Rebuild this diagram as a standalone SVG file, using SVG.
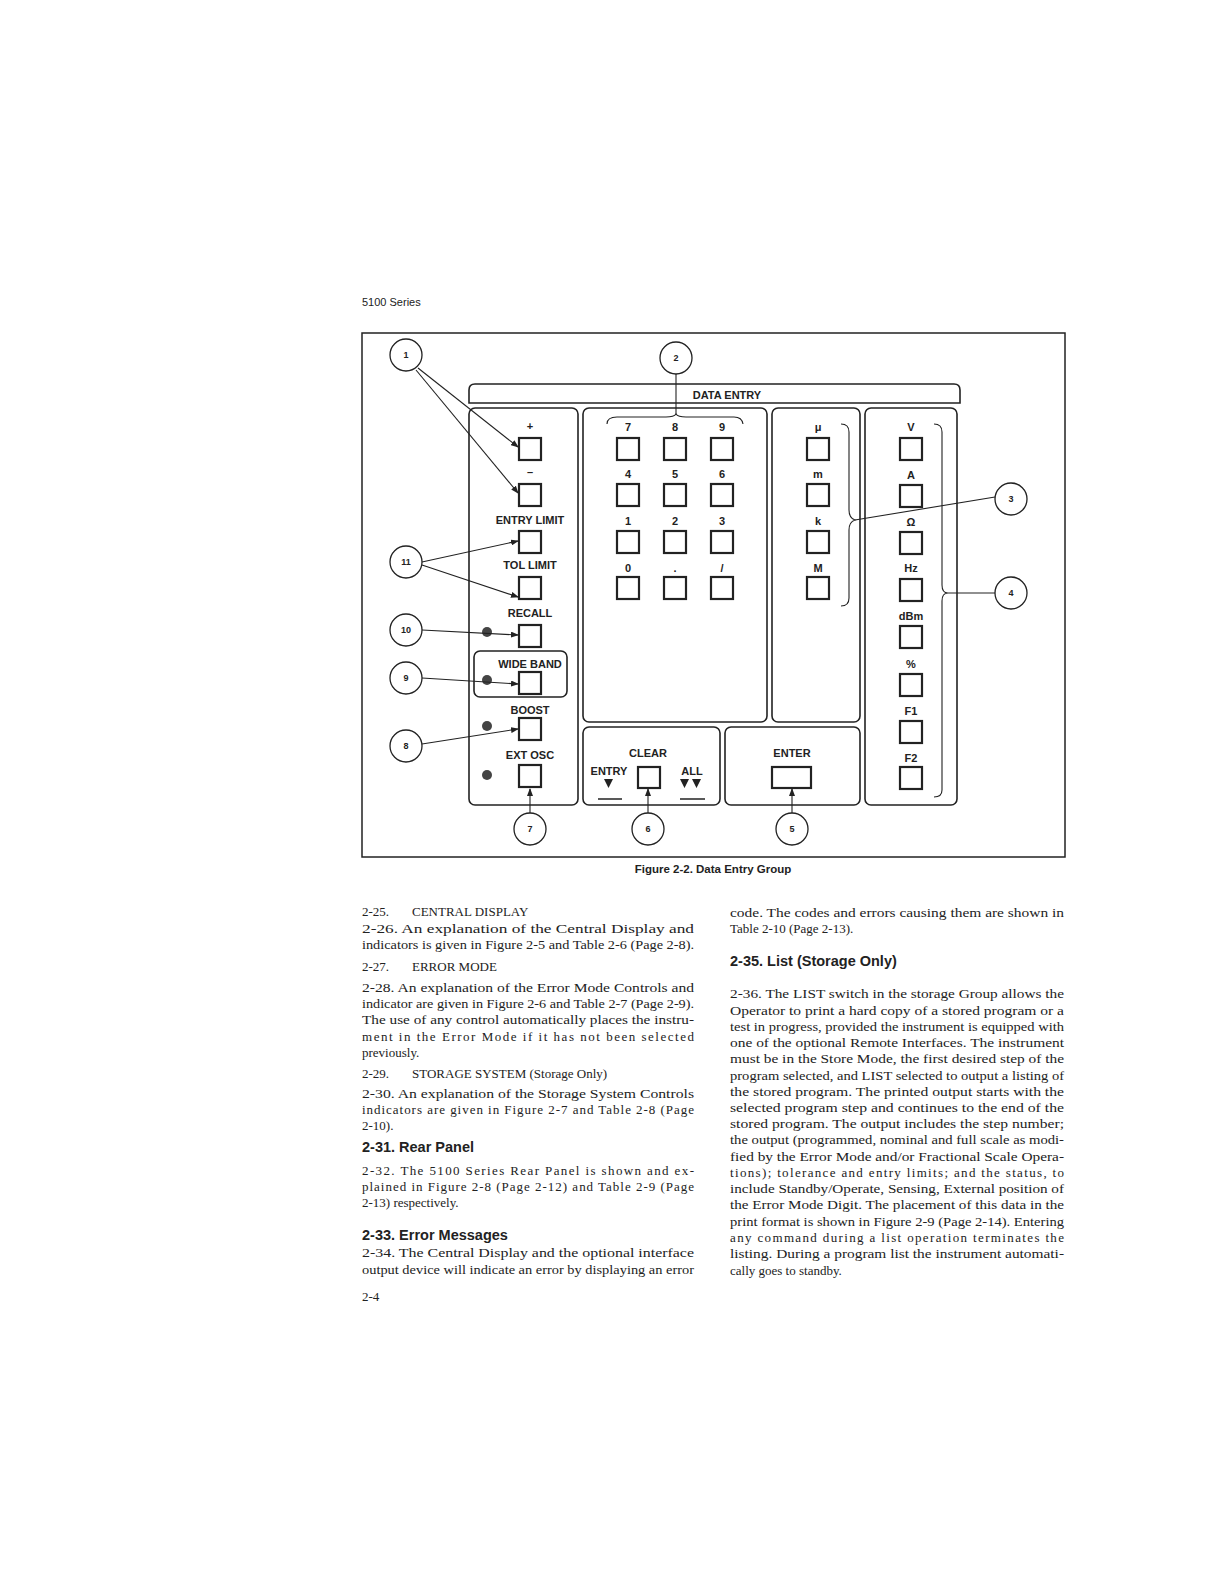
<svg xmlns="http://www.w3.org/2000/svg" width="1224" height="1584" viewBox="0 0 1224 1584">
<defs>
<marker id="ah" markerWidth="8" markerHeight="6" refX="7" refY="3" orient="auto" markerUnits="userSpaceOnUse"><path d="M0,0L8,3L0,6z" fill="#222"/></marker>
<style>
.p{fill:none;stroke:#222;stroke-width:1.6}
.b{fill:#fff;stroke:#222;stroke-width:2.2}
.l{font-family:"Liberation Sans",Arial,sans-serif;font-size:11px;font-weight:bold;fill:#222;text-anchor:middle}
.c{fill:#fff;stroke:#222;stroke-width:1.3}
.cn{font-family:"Liberation Sans",Arial,sans-serif;font-size:9px;font-weight:bold;fill:#222;text-anchor:middle}
.k{stroke:#222;stroke-width:1.1;fill:none}
.t{font-family:"Liberation Serif","Times New Roman",serif;font-size:13px;fill:#222}
.h{font-family:"Liberation Sans",Arial,sans-serif;font-size:14.5px;font-weight:bold;fill:#222}
.led{fill:#444}
</style>
</defs>
<rect width="1224" height="1584" fill="#fff"/>
<text x="362" y="306" font-family="Liberation Sans,Arial,sans-serif" font-size="11" fill="#222">5100 Series</text>
<rect x="362" y="333" width="703" height="524" fill="none" stroke="#222" stroke-width="1.5"/>
<g id="panels">
<path class="p" d="M469,403V390q0,-6 6,-6H954q6,0 6,6V403z"/>
<text class="l" x="727" y="399" font-size="14">DATA ENTRY</text>
<rect class="p" x="469" y="408" width="109" height="397" rx="6"/>
<rect class="p" x="583" y="408" width="184" height="314" rx="6"/>
<rect class="p" x="772" y="408" width="88" height="314" rx="6"/>
<rect class="p" x="865" y="408" width="92" height="397" rx="6"/>
<rect class="p" x="583" y="727" width="137" height="78" rx="6"/>
<rect class="p" x="725" y="727" width="135" height="78" rx="6"/>
<rect class="p" x="474" y="651" width="93" height="46" rx="6" stroke-width="2"/>
</g>
<g id="left-buttons">
<text class="l" x="530" y="430">+</text><rect class="b" x="519" y="438" width="22" height="22"/>
<text class="l" x="530" y="476">–</text><rect class="b" x="519" y="484" width="22" height="22"/>
<text class="l" x="530" y="524">ENTRY LIMIT</text><rect class="b" x="519" y="531" width="22" height="22"/>
<text class="l" x="530" y="569">TOL LIMIT</text><rect class="b" x="519" y="577" width="22" height="22"/>
<text class="l" x="530" y="617">RECALL</text><rect class="b" x="519" y="625" width="22" height="22"/>
<text class="l" x="530" y="668">WIDE BAND</text><rect class="b" x="519" y="672" width="22" height="22"/>
<text class="l" x="530" y="714">BOOST</text><rect class="b" x="519" y="718" width="22" height="22"/>
<text class="l" x="530" y="759">EXT OSC</text><rect class="b" x="519" y="765" width="22" height="22"/>
<circle class="led" cx="487" cy="632" r="5"/><circle class="led" cx="487" cy="680" r="5"/><circle class="led" cx="487" cy="726" r="5"/><circle class="led" cx="487" cy="775" r="5"/>
</g>
<g id="numeric">
<text class="l" x="628" y="431">7</text><text class="l" x="675" y="431">8</text><text class="l" x="722" y="431">9</text>
<text class="l" x="628" y="478">4</text><text class="l" x="675" y="478">5</text><text class="l" x="722" y="478">6</text>
<text class="l" x="628" y="525">1</text><text class="l" x="675" y="525">2</text><text class="l" x="722" y="525">3</text>
<text class="l" x="628" y="572">0</text><text class="l" x="675" y="572">.</text><text class="l" x="722" y="572">/</text>
<rect class="b" x="617" y="438" width="22" height="22"/><rect class="b" x="664" y="438" width="22" height="22"/><rect class="b" x="711" y="438" width="22" height="22"/>
<rect class="b" x="617" y="484" width="22" height="22"/><rect class="b" x="664" y="484" width="22" height="22"/><rect class="b" x="711" y="484" width="22" height="22"/>
<rect class="b" x="617" y="531" width="22" height="22"/><rect class="b" x="664" y="531" width="22" height="22"/><rect class="b" x="711" y="531" width="22" height="22"/>
<rect class="b" x="617" y="577" width="22" height="22"/><rect class="b" x="664" y="577" width="22" height="22"/><rect class="b" x="711" y="577" width="22" height="22"/>
</g>
<g id="multipliers">
<text class="l" x="818" y="431" font-weight="normal">μ</text><rect class="b" x="807" y="438" width="22" height="22"/>
<text class="l" x="818" y="478">m</text><rect class="b" x="807" y="484" width="22" height="22"/>
<text class="l" x="818" y="525">k</text><rect class="b" x="807" y="531" width="22" height="22"/>
<text class="l" x="818" y="572">M</text><rect class="b" x="807" y="577" width="22" height="22"/>
</g>
<g id="units">
<text class="l" x="911" y="431">V</text><rect class="b" x="900" y="438" width="22" height="22"/>
<text class="l" x="911" y="479">A</text><rect class="b" x="900" y="485" width="22" height="22"/>
<text class="l" x="911" y="526" font-weight="normal">Ω</text><rect class="b" x="900" y="532" width="22" height="22"/>
<text class="l" x="911" y="572">Hz</text><rect class="b" x="900" y="579" width="22" height="22"/>
<text class="l" x="911" y="620">dBm</text><rect class="b" x="900" y="626" width="22" height="22"/>
<text class="l" x="911" y="668">%</text><rect class="b" x="900" y="674" width="22" height="22"/>
<text class="l" x="911" y="715">F1</text><rect class="b" x="900" y="721" width="22" height="22"/>
<text class="l" x="911" y="762">F2</text><rect class="b" x="900" y="767" width="22" height="22"/>
</g>
<g id="clear-enter">
<text class="l" x="648" y="757">CLEAR</text><rect class="b" x="638" y="767" width="22" height="21"/>
<text class="l" x="609" y="775">ENTRY</text><path d="M604,779h9l-4.5,9z" fill="#222"/><line x1="598" y1="799" x2="622" y2="799" stroke="#222" stroke-width="1.5"/>
<text class="l" x="692" y="775">ALL</text><path d="M680,779h9l-4.5,9zM692,779h9l-4.5,9z" fill="#222"/><line x1="680" y1="799" x2="705" y2="799" stroke="#222" stroke-width="1.5"/>
<text class="l" x="792" y="757">ENTER</text><rect class="b" x="772" y="767" width="39" height="21"/>
</g>
<g id="connectors">
<path class="k" d="M418,368L518,447" marker-end="url(#ah)"/>
<path class="k" d="M416,370L518,493" marker-end="url(#ah)"/>
<path class="k" d="M422,562L518,541" marker-end="url(#ah)"/>
<path class="k" d="M422,565L518,597" marker-end="url(#ah)"/>
<path class="k" d="M422,630L518,635" marker-end="url(#ah)"/>
<path class="k" d="M422,678L518,684" marker-end="url(#ah)"/>
<path class="k" d="M422,744L518,729" marker-end="url(#ah)"/>
<path class="k" d="M530,813V789" marker-end="url(#ah)"/>
<path class="k" d="M648,813V789" marker-end="url(#ah)"/>
<path class="k" d="M792,813V789" marker-end="url(#ah)"/>
<path class="k" d="M676,374V414"/>
<path class="k" d="M607,424q0,-7 10,-7H666q8,0 10,-3q2,3 10,3H734q8,0 9,7"/>
<path class="k" d="M841,424q8,0 8,8V510q0,8 6,10q-6,2 -6,10V598q0,8 -8,8"/>
<path class="k" d="M855,520L995,497"/>
<path class="k" d="M934,424q8,0 8,8V585q0,8 6,8q-6,0 -6,8V790q0,7 -8,7"/>
<path class="k" d="M948,593H995"/>
</g>
<g id="callouts">
<circle class="c" cx="406" cy="355" r="16"/><text class="cn" x="406" y="358">1</text>
<circle class="c" cx="676" cy="358" r="16"/><text class="cn" x="676" y="361">2</text>
<circle class="c" cx="1011" cy="499" r="16"/><text class="cn" x="1011" y="502">3</text>
<circle class="c" cx="1011" cy="593" r="16"/><text class="cn" x="1011" y="596">4</text>
<circle class="c" cx="406" cy="562" r="16"/><text class="cn" x="406" y="565">11</text>
<circle class="c" cx="406" cy="630" r="16"/><text class="cn" x="406" y="633">10</text>
<circle class="c" cx="406" cy="678" r="16"/><text class="cn" x="406" y="681">9</text>
<circle class="c" cx="406" cy="746" r="16"/><text class="cn" x="406" y="749">8</text>
<circle class="c" cx="530" cy="829" r="16"/><text class="cn" x="530" y="832">7</text>
<circle class="c" cx="648" cy="829" r="16"/><text class="cn" x="648" y="832">6</text>
<circle class="c" cx="792" cy="829" r="16"/><text class="cn" x="792" y="832">5</text>
</g>
<text x="713" y="873" font-family="Liberation Sans,Arial,sans-serif" font-size="11.5" font-weight="bold" fill="#222" text-anchor="middle">Figure 2-2. Data Entry Group</text>
<g id="text-left" class="t">
<text x="362" y="916">2-25.<tspan x="412">CENTRAL DISPLAY</tspan></text>
<text x="362" y="933" textLength="332" lengthAdjust="spacingAndGlyphs">2-26.   An explanation of the Central Display and</text>
<text x="362" y="949" textLength="332" lengthAdjust="spacingAndGlyphs">indicators is given in Figure 2-5 and Table 2-6 (Page 2-8).</text>
<text x="362" y="971">2-27.<tspan x="412">ERROR MODE</tspan></text>
<text x="362" y="992" textLength="332" lengthAdjust="spacingAndGlyphs">2-28.   An explanation of the Error Mode Controls and</text>
<text x="362" y="1008" textLength="332" lengthAdjust="spacingAndGlyphs">indicator are given in Figure 2-6 and Table 2-7 (Page 2-9).</text>
<text x="362" y="1024" textLength="332" lengthAdjust="spacingAndGlyphs">The use of any control automatically places the instru-</text>
<text x="362" y="1041" textLength="332" lengthAdjust="spacing">ment in the Error Mode if it has not been selected</text>
<text x="362" y="1057">previously.</text>
<text x="362" y="1078">2-29.<tspan x="412">STORAGE SYSTEM (Storage Only)</tspan></text>
<text x="362" y="1098" textLength="332" lengthAdjust="spacingAndGlyphs">2-30.   An explanation of the Storage System Controls</text>
<text x="362" y="1114" textLength="332" lengthAdjust="spacing">indicators are given in Figure 2-7 and Table 2-8 (Page</text>
<text x="362" y="1130">2-10).</text>
<text class="h" x="362" y="1152">2-31.  Rear Panel</text>
<text x="362" y="1175" textLength="332" lengthAdjust="spacing">2-32.   The 5100 Series Rear Panel is shown and ex-</text>
<text x="362" y="1191" textLength="332" lengthAdjust="spacing">plained in Figure 2-8 (Page 2-12) and Table 2-9 (Page</text>
<text x="362" y="1207">2-13) respectively.</text>
<text class="h" x="362" y="1240">2-33.  Error Messages</text>
<text x="362" y="1257" textLength="332" lengthAdjust="spacingAndGlyphs">2-34.   The Central Display and the optional interface</text>
<text x="362" y="1274" textLength="332" lengthAdjust="spacingAndGlyphs">output device will indicate an error by displaying an error</text>
<text x="362" y="1301">2-4</text>
</g>
<g id="text-right" class="t">
<text x="730" y="917" textLength="334" lengthAdjust="spacingAndGlyphs">code. The codes and errors causing them are shown in</text>
<text x="730" y="933">Table 2-10 (Page 2-13).</text>
<text class="h" x="730" y="966">2-35.  List (Storage Only)</text>
<text x="730" y="998" textLength="334" lengthAdjust="spacingAndGlyphs">2-36.   The LIST switch in the storage Group allows the</text>
<text x="730" y="1015" textLength="334" lengthAdjust="spacingAndGlyphs">Operator to print a hard copy of a stored program or a</text>
<text x="730" y="1031" textLength="334" lengthAdjust="spacingAndGlyphs">test in progress, provided the instrument is equipped with</text>
<text x="730" y="1047" textLength="334" lengthAdjust="spacingAndGlyphs">one of the optional Remote Interfaces. The instrument</text>
<text x="730" y="1063" textLength="334" lengthAdjust="spacingAndGlyphs">must be in the Store Mode, the first desired step of the</text>
<text x="730" y="1080" textLength="334" lengthAdjust="spacingAndGlyphs">program selected, and LIST selected to output a listing of</text>
<text x="730" y="1096" textLength="334" lengthAdjust="spacingAndGlyphs">the stored program. The printed output starts with the</text>
<text x="730" y="1112" textLength="334" lengthAdjust="spacingAndGlyphs">selected program step and continues to the end of the</text>
<text x="730" y="1128" textLength="334" lengthAdjust="spacingAndGlyphs">stored program. The output includes the step number;</text>
<text x="730" y="1144" textLength="334" lengthAdjust="spacingAndGlyphs">the output (programmed, nominal and full scale as modi-</text>
<text x="730" y="1161" textLength="334" lengthAdjust="spacingAndGlyphs">fied by the Error Mode and/or Fractional Scale Opera-</text>
<text x="730" y="1177" textLength="334" lengthAdjust="spacing">tions); tolerance and entry limits; and the status, to</text>
<text x="730" y="1193" textLength="334" lengthAdjust="spacingAndGlyphs">include Standby/Operate, Sensing, External position of</text>
<text x="730" y="1209" textLength="334" lengthAdjust="spacingAndGlyphs">the Error Mode Digit. The placement of this data in the</text>
<text x="730" y="1226" textLength="334" lengthAdjust="spacingAndGlyphs">print format is shown in Figure 2-9 (Page 2-14). Entering</text>
<text x="730" y="1242" textLength="334" lengthAdjust="spacing">any command during a list operation terminates the</text>
<text x="730" y="1258" textLength="334" lengthAdjust="spacingAndGlyphs">listing. During a program list the instrument automati-</text>
<text x="730" y="1275">cally goes to standby.</text>
</g>
</svg>
